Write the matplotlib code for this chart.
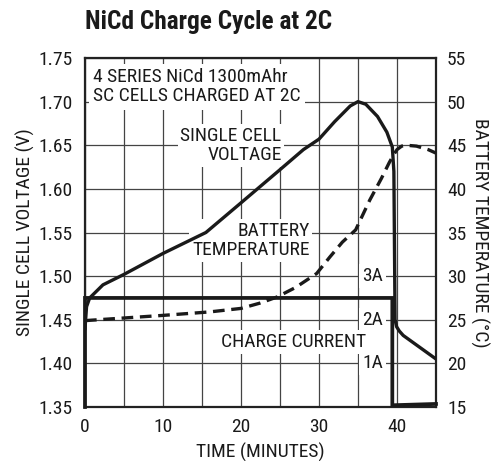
import matplotlib
matplotlib.use("Agg")
import matplotlib.pyplot as plt
from matplotlib.ticker import MultipleLocator

plt.rcParams['font.family'] = ['Roboto Condensed', 'DejaVu Sans']

# ---- data ----
volt_t = [0.0, 0.2, 0.6, 2.3, 5, 10, 15.5, 20, 25, 28, 30, 32, 34, 35, 36, 37.5,
          38.7, 39.4, 39.6, 39.75, 39.95, 40.3, 40.8, 45]
volt_v = [1.44, 1.465, 1.475, 1.49, 1.502, 1.526, 1.55, 1.584, 1.622, 1.645, 1.657,
          1.677, 1.695, 1.700, 1.697, 1.683, 1.665, 1.648, 1.62, 1.45, 1.442, 1.437,
          1.432, 1.405]

temp_t = [0, 5, 10, 16, 20, 22.4, 24.6, 27, 29.7, 31.4, 33, 34.7, 36.5, 38.0, 39.0,
          39.5, 40.0, 40.6, 41.2, 42.5, 44, 45]
temp_c = [24.9, 25.2, 25.5, 25.9, 26.3, 26.9, 27.6, 28.7, 30.3, 32.2, 33.9, 35.3,
          38.7, 41.2, 43.0, 43.8, 44.5, 44.9, 45.0, 44.9, 44.5, 44.1]

curr_t = [0.0, 0.0, 39.4, 39.4, 45]
curr_a = [0.0, 2.5, 2.5, 0.04, 0.07]

x_ticks = [0, 10, 20, 30, 40]
v_ticks = [1.35, 1.40, 1.45, 1.50, 1.55, 1.60, 1.65, 1.70, 1.75]
t_ticks = [15, 20, 25, 30, 35, 40, 45, 50, 55]

FS = 14
fig = plt.figure(figsize=(4.92, 4.61), dpi=100)
ax = fig.add_axes([85/492, 1-407/461, (436-85)/492, (407-58)/461])
ax.set_xlim(0, 45)
ax.set_ylim(1.35, 1.75)
ax.set_xticks(x_ticks)
ax.xaxis.set_minor_locator(MultipleLocator(5))
ax.set_yticks(v_ticks)
ax.set_yticklabels([f"{v:.2f}" for v in v_ticks])
ax.set_axisbelow(True)
ax.grid(True, which='both', color='#444444', lw=0.9)
ax.tick_params(which='both', length=0, labelsize=FS, colors='#1a1a1a')
ax.tick_params(axis='y', pad=9)
ax.tick_params(axis='x', pad=8)
for s in ax.spines.values():
    s.set_linewidth(1.6)
    s.set_color('#222222')
ax.set_xlabel("TIME (MINUTES)", fontsize=FS, color='#1a1a1a', va='center')
ax.xaxis.set_label_coords(0.5, -(452-407)/349)
ax.set_ylabel("SINGLE CELL VOLTAGE (V)", fontsize=FS, color='#1a1a1a', va='center')
ax.yaxis.set_label_coords((25-85)/351, 0.5)

ax.plot(volt_t, volt_v, color='#1a1a1a', lw=2.4, solid_joinstyle='round', zorder=5)

ax2 = ax.twinx()
ax2.set_ylim(15, 55)
ax2.set_yticks(t_ticks)
ax2.tick_params(length=0, labelsize=FS, pad=8, colors='#1a1a1a')
for s in ax2.spines.values():
    s.set_visible(False)
ax2.set_ylabel("BATTERY TEMPERATURE (°C)", fontsize=FS, rotation=-90, color='#1a1a1a',
               va='center')
ax2.yaxis.set_label_coords((480-85)/351, 0.5)
ax2.plot(temp_t, temp_c, color='#1a1a1a', lw=2.4, dashes=[3.5, 2])

ax3 = ax.twinx()
ax3.set_ylim(0, 8)
ax3.axis('off')
ax3.plot(curr_t, curr_a, color='#1a1a1a', lw=2.7, solid_joinstyle='miter', clip_on=False)

box = dict(facecolor='white', edgecolor='none', pad=2)
ax.text(1.0, 1.717, "4 SERIES NiCd 1300mAhr\nSC CELLS CHARGED AT 2C", fontsize=FS,
        ha='left', va='center', linespacing=1.1, color='#1a1a1a',
        bbox=dict(facecolor='white', edgecolor='none', pad=3))
ax.text(25.2, 1.650, "SINGLE CELL\nVOLTAGE", fontsize=FS, ha='right', va='center',
        linespacing=1.1, bbox=box, color='#1a1a1a')
ax.text(28.8, 1.541, "BATTERY\nTEMPERATURE", fontsize=FS, ha='right', va='center',
        linespacing=1.1, bbox=box, color='#1a1a1a')
ax.text(26.7, 1.4245, "CHARGE CURRENT", fontsize=FS, ha='center', va='center', bbox=box,
        color='#1a1a1a')
for lab, v in [("3A", 1.50), ("2A", 1.45), ("1A", 1.40)]:
    ax.text(38.2, v, lab, fontsize=FS, ha='right', va='center', bbox=box, color='#1a1a1a')

fig.text(85/492, 1-22/461, "NiCd Charge Cycle at 2C", fontsize=18.3, fontweight='bold',
         ha='left', va='center', color='#1a1a1a')

fig.savefig("out.png", dpi=100)
